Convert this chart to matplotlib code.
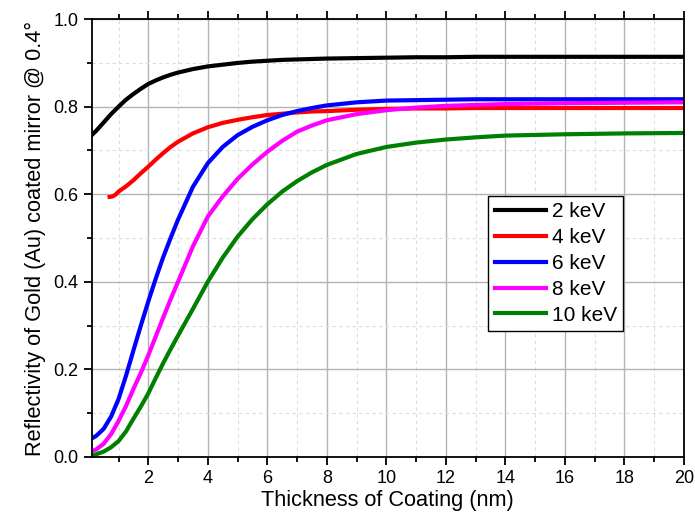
import numpy as np
import matplotlib
matplotlib.use('Agg')
from matplotlib import pyplot as plt
from matplotlib.ticker import MultipleLocator, FormatStrFormatter

plt.rcParams['font.family'] = ['Liberation Sans', 'DejaVu Sans']

# thickness (nm)
x = [0.1, 0.25, 0.5, 0.75, 1, 1.25, 1.5, 1.75, 2, 2.25, 2.5, 2.75, 3, 3.5, 4, 4.5,
     5, 5.5, 6, 6.5, 7, 7.5, 8, 9, 10, 11, 12, 13, 14, 16, 18, 20]
x_4kev = [0.7, 0.8, 0.9, 1, 1.25, 1.5, 1.75, 2, 2.25, 2.5, 2.75, 3, 3.5, 4, 4.5,
          5, 5.5, 6, 6.5, 7, 7.5, 8, 9, 10, 11, 12, 13, 14, 16, 18, 20]

r_2kev = [0.735, 0.745, 0.764, 0.783, 0.800, 0.816, 0.829, 0.841, 0.852, 0.860,
          0.867, 0.873, 0.878, 0.886, 0.892, 0.896, 0.900, 0.903, 0.905, 0.907,
          0.908, 0.909, 0.910, 0.911, 0.912, 0.913, 0.913, 0.914, 0.914, 0.914,
          0.914, 0.914]
r_4kev = [0.594, 0.595, 0.599, 0.606, 0.618, 0.632, 0.648, 0.663, 0.679, 0.694,
          0.708, 0.720, 0.739, 0.753, 0.763, 0.770, 0.776, 0.781, 0.784, 0.787,
          0.789, 0.790, 0.793, 0.795, 0.796, 0.796, 0.797, 0.797, 0.797, 0.797,
          0.797]
r_6kev = [0.042, 0.048, 0.064, 0.092, 0.132, 0.185, 0.243, 0.300, 0.355, 0.407,
          0.456, 0.500, 0.542, 0.617, 0.671, 0.708, 0.735, 0.754, 0.769, 0.781,
          0.790, 0.797, 0.803, 0.810, 0.814, 0.815, 0.816, 0.817, 0.817, 0.817,
          0.817, 0.817]
r_8kev = [0.013, 0.017, 0.030, 0.052, 0.082, 0.116, 0.155, 0.192, 0.232, 0.275,
          0.318, 0.360, 0.400, 0.481, 0.549, 0.595, 0.635, 0.668, 0.697, 0.722,
          0.743, 0.757, 0.769, 0.783, 0.792, 0.798, 0.802, 0.804, 0.806, 0.808,
          0.809, 0.810]
r_10kev = [0.003, 0.006, 0.012, 0.022, 0.036, 0.058, 0.087, 0.115, 0.145, 0.180,
           0.214, 0.246, 0.277, 0.338, 0.400, 0.455, 0.503, 0.543, 0.577, 0.606,
           0.630, 0.650, 0.667, 0.692, 0.708, 0.718, 0.725, 0.730, 0.734, 0.737,
           0.739, 0.740]

labels = ['2 keV', '4 keV', '6 keV', '8 keV', '10 keV']
colors = ['black', 'red', 'blue', 'magenta', 'green']

fig = plt.figure(figsize=(6.95, 5.18), dpi=100)
ax = fig.add_axes([0.132, 0.118, 0.852, 0.845])

series = [(x, r_2kev), (x_4kev, r_4kev), (x, r_6kev), (x, r_8kev), (x, r_10kev)]
for (xs, ys), lab, c in zip(series, labels, colors):
    ax.plot(xs, ys, color=c, lw=3, label=lab)

ax.set_xlim(0.1, 20)
ax.set_ylim(0, 1.0)
ax.xaxis.set_major_locator(MultipleLocator(2))
ax.xaxis.set_minor_locator(MultipleLocator(1))
ax.yaxis.set_major_locator(MultipleLocator(0.2))
ax.yaxis.set_minor_locator(MultipleLocator(0.1))
ax.yaxis.set_major_formatter(FormatStrFormatter('%.1f'))

ax.grid(which='major', color='#b4b4b4', lw=1.0, ls='-')
ax.grid(which='minor', color='#dcdcdc', lw=0.8, ls=(0, (3, 3)))
ax.set_axisbelow(True)

for s in ax.spines.values():
    s.set_linewidth(1.3)
ax.tick_params(which='both', direction='out', top=True, right=False,
               labeltop=False, width=1.3, labelsize=13)
ax.tick_params(which='major', length=6)
ax.tick_params(which='minor', length=3.5)

ax.set_xlabel('Thickness of Coating (nm)', fontsize=15.7, labelpad=2)
ax.set_ylabel('Reflectivity of Gold (Au) coated mirror @ 0.4°', fontsize=15.7, labelpad=5)

leg = ax.legend(loc='upper left', bbox_to_anchor=(0.67, 0.596), fontsize=15,
                frameon=True, fancybox=False, edgecolor='black', framealpha=1,
                handlelength=2.45, handletextpad=0.3, borderaxespad=0,
                labelspacing=0.33, borderpad=0.3)
leg.get_frame().set_linewidth(1.0)

fig.savefig('out.png', dpi=100)
